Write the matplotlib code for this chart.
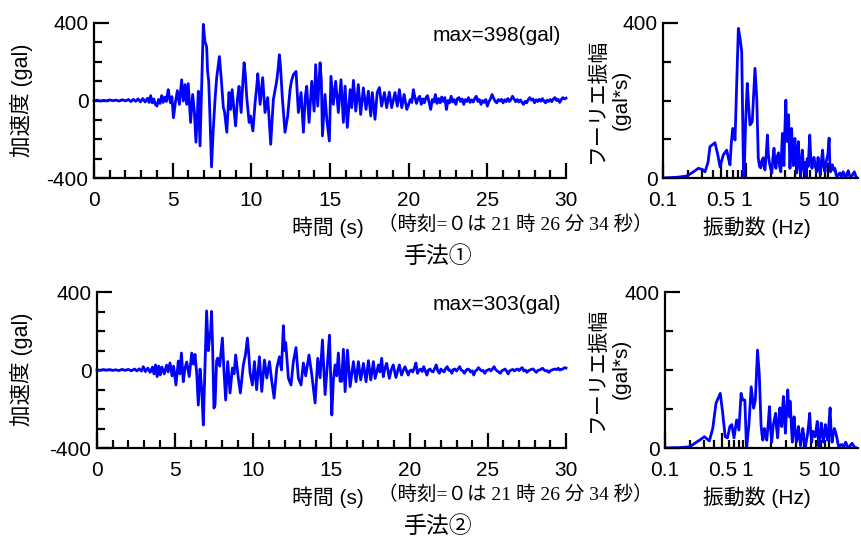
import matplotlib
matplotlib.use("Agg")
import matplotlib.pyplot as plt
import numpy as np
from matplotlib.ticker import FixedLocator, MultipleLocator

plt.rcParams['font.family'] = ['Liberation Sans', 'Noto Sans CJK JP']
plt.rcParams['axes.unicode_minus'] = False

# --- 手法① 加速度波形 (time s, gal), 0-20 s read at the turning points
t1 = [0.0, 0.2, 0.4, 0.6, 0.8, 1.0, 1.2, 1.4, 1.6, 1.8, 2.0, 2.2, 2.35, 2.5, 2.65,
      2.8, 2.95, 3.1, 3.25, 3.4, 3.5, 3.6, 3.7, 3.8, 3.9, 4.0, 4.1, 4.2, 4.3, 4.4,
      4.5, 4.6, 4.72, 4.8, 4.87, 4.95, 5.05, 5.17, 5.3, 5.43, 5.57, 5.68, 5.79, 5.89,
      5.99, 6.14, 6.27, 6.38, 6.48, 6.58, 6.63, 6.74, 6.85, 6.95, 7.05, 7.16, 7.22,
      7.29, 7.36, 7.47, 7.58, 7.7, 7.8, 7.97, 8.1, 8.22, 8.3, 8.44, 8.58, 8.68, 8.78,
      8.9, 9.0, 9.12, 9.22, 9.35, 9.45, 9.54, 9.62, 9.71, 9.86, 9.95, 10.1, 10.24,
      10.33, 10.41, 10.56, 10.72, 10.87, 11.04, 11.12, 11.23, 11.4, 11.5, 11.61, 11.7,
      11.78, 11.85, 11.97, 12.14, 12.31, 12.46, 12.55, 12.67, 12.84, 12.99, 13.16,
      13.31, 13.43, 13.52, 13.67, 13.84, 13.99, 14.09, 14.22, 14.37, 14.45, 14.52,
      14.68, 14.8, 14.96, 15.06, 15.21, 15.36, 15.53, 15.7, 15.85, 15.96, 16.1, 16.28,
      16.38, 16.49, 16.64, 16.8, 16.95, 17.12, 17.29, 17.44, 17.59, 17.69, 17.86, 18.0,
      18.14, 18.28, 18.46, 18.6, 18.77, 18.92, 19.13, 19.28, 19.41, 19.56, 19.71, 19.88]
a1 = [0, 2, -3, 1, -2, 3, -1, 2, -3, 4, -2, 5, -6, 6, -4,
      8, -7, 10, -8, 12, -10, 25, -12, 8, -20, -29, 5, -15, 25, -10,
      18, -5, 56, 10, -12, 20, -89, -12, 51, -20, 107, -3, 82, -20,
      87, -113, 31, -60, -215, -50, 48, -234, 100, 393, 304, 278, 150,
      100, -60, -343, -150, 15, 120, 227, 100, -36, -60, -164, 41, -46, 56,
      -50, -131, 10, 73, -62, 80, 195, 130, 15, -113, -80, -157, -10,
      60, 138, -20, 118, -62, 15, -80, -226, 5, 50, 99, 160,
      236, 180, 15, -164, -80, 56, 100, 133, 150, -62, 41,
      -164, 20, 73, -113, 99, -55, 185, -29, 195, 100, -183,
      31, -100, -209, 125, -20, 99, -62, 107, -113, 74, -139, 56,
      -37, 104, -55, 82, -72, 65, -46, 48, -80, 41, -97, 41,
      67, -29, 41, -37, 43, -37, 41, -29, 56, -37, 31, -46]
# 20-30 s tail, read every 0.1 s
a1_tail = [-20, 5, -10, 56, 15, -15, 10, 22, -20, 8,
           -12, 15, 25, -10, -46, 5, -8, 31, -15, 10,
           -12, 18, -5, 15, -46, 0, -12, 22, -8, 5,
           -20, 10, 15, -5, 8, -20, 5, -5, 15, -10,
           3, -8, 10, 22, -5, 5, -20, 0, -10, 5,
           -29, -5, 8, 31, 12, -5, -12, 5, -3, 6,
           -12, 4, -6, 10, -5, 5, 22, 8, -6, 5,
           -8, 3, -10, -20, -4, -12, 5, 15, 2, 8,
           -12, 4, -5, 6, -4, 10, -3, -12, 2, -5,
           5, -6, 8, 15, 0, 6, -10, 5, 15, 8, 12]

# --- 手法② 加速度波形
t2 = [0.0, 0.2, 0.4, 0.6, 0.8, 1.0, 1.2, 1.4, 1.6, 1.8, 2.0, 2.2, 2.4, 2.55, 2.7,
      2.85, 2.96, 3.1, 3.25, 3.4, 3.55, 3.65, 3.75, 3.85, 3.95, 4.05, 4.15, 4.3, 4.45,
      4.55, 4.67, 4.8, 4.9, 5.05, 5.2, 5.3, 5.4, 5.52, 5.63, 5.74, 5.9, 6.06, 6.17,
      6.27, 6.38, 6.48, 6.59, 6.7, 6.8, 6.9, 7.01, 7.12, 7.18, 7.27, 7.33, 7.4, 7.48,
      7.55, 7.65, 7.72, 7.85, 8.02, 8.12, 8.23, 8.36, 8.51, 8.66, 8.77, 8.87, 9.04,
      9.17, 9.36, 9.5, 9.62, 9.7, 9.79, 9.94, 10.07, 10.21, 10.39, 10.54, 10.71, 10.86,
      11.03, 11.18, 11.33, 11.5, 11.67, 11.8, 11.92, 12.0, 12.07, 12.24, 12.41, 12.56,
      12.73, 12.88, 13.05, 13.2, 13.35, 13.56, 13.74, 13.95, 14.12, 14.27, 14.42, 14.59,
      14.75, 14.87, 15.02, 15.12, 15.23, 15.33, 15.44, 15.55, 15.65, 15.76, 15.87,
      16.02, 16.19, 16.4, 16.57, 16.72, 16.87, 17.04, 17.21, 17.36, 17.51, 17.68, 17.79,
      18.0, 18.1, 18.21, 18.31, 18.42, 18.53, 18.7, 18.82, 18.95, 19.12, 19.34, 19.48,
      19.6, 19.7, 19.91]
a2 = [0, -2, 2, -1, 2, -2, 1, -3, 3, -2, 3, -4, 5, -5, 6,
      -6, 17, -8, 10, -12, 15, -20, 26, -34, 20, -25, 15, -20, 25,
      -10, 36, -30, 20, -77, 46, -20, 87, -60, 10, 41, -34, 87, 30,
      80, -20, -180, 5, -100, -282, 0, 303, 99, 151, 200, 300, 100, -195,
      -180, 46, 61, 20, 164, 0, -154, 43, -118, 10, -20, 77, -41,
      -118, 26, 80, 164, 90, -15, -77, 43, -101, 68, -110, 51, -41,
      43, -58, -144, 10, 68, 0, 227, 100, 141, -41, -77, 43,
      115, -41, -77, 36, -30, 77, -24, -169, 60, -40, 154, -126,
      40, 179, -231, -50, 26, -30, 87, -58, -58, 106, -111,
      102, -85, 43, -60, 43, -51, 34, -60, 48, -51, 43, -43,
      26, -10, 60, -34, 10, 34, -43, 0, 26, -38, 26, -26,
      0, 17, -26]
a2_tail = [-5, 0, -10, 10, 36, -17, 0, 5, -8, 17,
           -5, -26, 0, 5, -6, -10, 8, 26, -5, -17,
           5, -4, -10, 8, 17, -2, 0, -17, 3, 5,
           -5, 6, 17, 0, -5, -17, -3, 5, 2, -10,
           -4, -26, -5, 0, 12, 3, -5, -2, -17, -4,
           0, 4, -5, 6, 17, 2, -5, -10, -17, -3,
           0, 5, -6, -20, -4, 0, 3, -5, 2, 5,
           -3, 6, 12, -5, 0, -12, -3, 0, 4, 5,
           -4, -12, -2, 0, 4, 9, 0, -5, -3, -12,
           -4, 0, 3, 5, 2, 9, 0, 3, 5, 12, 10]
t_tail = np.round(np.arange(20.0, 30.05, 0.1), 1)

# --- フーリエ振幅 (Hz, gal*s)
f1 = [0.1, 0.15, 0.193, 0.23, 0.267, 0.3, 0.322, 0.35, 0.37, 0.425, 0.46, 0.489,
      0.535, 0.589, 0.62, 0.646, 0.67, 0.696, 0.743, 0.78, 0.815, 0.855, 0.895, 0.92,
      0.94, 0.955, 1.0, 1.045, 1.09, 1.127, 1.2, 1.25, 1.295, 1.36,
      1.42, 1.47, 1.52, 1.57, 1.63, 1.67, 1.71, 1.77, 1.83, 1.88, 1.94, 2.0, 2.07,
      2.13, 2.2, 2.26, 2.32, 2.4, 2.49, 2.57, 2.66, 2.72, 2.78, 2.84, 2.9, 2.97, 3.06,
      3.12, 3.18, 3.24, 3.3, 3.36, 3.43, 3.5, 3.59, 3.68, 3.78, 3.86, 3.94, 4.03, 4.13,
      4.23, 4.33, 4.45, 4.6, 4.72, 4.84, 4.97, 5.1, 5.25, 5.4, 5.55, 5.7, 5.95, 6.13,
      6.33, 6.5, 6.7, 6.95, 7.2, 7.35, 7.5, 7.75, 8.0, 8.25, 8.5, 8.8, 9.1, 9.3, 9.5,
      9.85, 10.2, 10.4, 10.6, 10.9, 11.2, 11.6, 12.0, 12.4, 12.8, 13.3, 13.8, 14.4,
      15.1, 15.7, 16.3, 16.8, 17.4, 18.1, 18.8, 19.7, 20.6, 21.5, 22.3]
A1 = [0, 2, 5, 15, 25, 22, 16, 40, 81, 91, 60, 29,
      59, 72, 50, 34, 90, 128, 98, 250, 386, 360, 326, 150,
      15, 0, 150, 244, 180, 137, 145, 220, 283, 206,
      51, 30, 26, 45, 52, 30, 21, 60, 111, 60, 38, 25, 13,
      50, 77, 40, 25, 55, 65, 30, 16, 70, 115, 60, 32, 120, 201,
      130, 94, 140, 163, 90, 25, 80, 128, 70, 32, 85, 102, 50, 13,
      60, 94, 40, 4, 40, 72, 35, 16, 40, 2, 50, 30, 111, 50,
      25, 45, 53, 30, 16, 35, 53, 25, 8, 45, 72, 30, 16, 35, 47,
      60, 103, 40, 16, 25, 34, 20, 25, 8, 0, 10, 13, 4,
      16, 5, 0, 12, 19, 5, 0, 10, 16, 4, 0]

f2 = [0.1, 0.15, 0.2, 0.264, 0.303, 0.348, 0.383, 0.42, 0.473, 0.505, 0.543, 0.58,
      0.62, 0.654, 0.697, 0.75, 0.8, 0.85, 0.89, 0.945, 0.99, 1.06, 1.13, 1.21, 1.27,
      1.35, 1.42, 1.49, 1.53, 1.57, 1.6, 1.64, 1.7, 1.75, 1.82, 1.89, 1.95, 2.01, 2.06,
      2.11, 2.18, 2.25, 2.31, 2.38, 2.45, 2.53, 2.6, 2.67, 2.73, 2.8, 2.88, 2.96, 3.06,
      3.16, 3.23, 3.3, 3.37, 3.45, 3.52, 3.6, 3.69, 3.78, 3.9, 4.03, 4.15, 4.28, 4.4,
      4.53, 4.68, 4.83, 5.0, 5.2, 5.35, 5.5, 5.68, 5.86, 6.03, 6.2, 6.3, 6.4, 6.6, 6.8,
      7.0, 7.25, 7.4, 7.58, 7.85, 8.1, 8.35, 8.6, 8.85, 9.1, 9.4, 9.7, 10.05, 10.4,
      10.7, 11.0, 11.35, 11.7, 12.15, 12.6, 13.0, 13.4, 13.9, 14.5, 15.3, 16.1, 16.9,
      17.7, 18.5, 19.3, 20.5, 21.9]
A2 = [0, 1, 3, 20, 29, 18, 50, 115, 140, 93, 29, 26,
      55, 60, 26, 72, 46, 140, 123, 123, 0, 60, 157, 102, 123,
      251, 187, 60, 35, 20, 40, 50, 30, 20, 60, 106, 50, 15, 40,
      60, 75, 89, 50, 26, 70, 103, 70, 55, 100, 132, 80, 38, 100,
      149, 110, 80, 120, 85, 45, 15, 55, 80, 40, 15, 35, 55, 25,
      6, 30, 50, 20, 3, 20, 34, 60, 89, 40, 15, 30, 43, 35, 29,
      45, 68, 30, 5, 35, 64, 35, 15, 40, 60, 35, 20, 60, 103,
      40, 15, 35, 50, 40, 26, 10, 0, 8, 9, 3, 15, 5,
      0, 8, 12, 3, 0]

max_labels = ['max=398(gal)', 'max=303(gal)']
method_titles = ['手法①', '手法②']
note = '（時刻=０は 21 時 26 分 34 秒）'

W, H = 861, 539
fig = plt.figure(figsize=(W / 100, H / 100), dpi=100)
blue = '#0000ff'
serif = ['Liberation Serif', 'Noto Sans CJK JP']


def box(x0, x1, ytop, ybot):
    return [x0 / W, 1 - ybot / H, (x1 - x0) / W, (ybot - ytop) / H]


def style(ax):
    for s in ['top', 'right']:
        ax.spines[s].set_visible(False)
    for s in ['left', 'bottom']:
        ax.spines[s].set_linewidth(1.6)
    ax.tick_params(which='both', direction='in', width=1.6, labelsize=15)
    ax.tick_params(which='major', length=11)
    ax.tick_params(which='minor', length=6)
    ax.tick_params(axis='x', pad=9)
    ax.tick_params(axis='y', pad=4)


rows = [
    (t1, a1, a1_tail, f1, A1, 94, 23, 178, 663),
    (t2, a2, a2_tail, f2, A2, 97, 292, 448, 665),
]

for i, (t, a, tail, f, A, x0, ytop, ybot, sx0) in enumerate(rows):
    # waveform
    ax = fig.add_axes(box(x0, 566, ytop, ybot))
    ax.plot(list(t) + list(t_tail), list(a) + list(tail), color=blue, lw=2.0,
            clip_on=False)
    ax.set_xlim(0, 30)
    ax.set_ylim(-400, 400)
    ax.xaxis.set_major_locator(MultipleLocator(5))
    ax.xaxis.set_minor_locator(MultipleLocator(1))
    ax.set_yticks([-400, 0, 400])
    ax.yaxis.set_minor_locator(MultipleLocator(100))
    style(ax)
    ax.text(29.7, 335, max_labels[i], ha='right', va='center', fontsize=15)

    # spectrum
    sp = fig.add_axes(box(sx0, 858, ytop, ybot))
    sp.plot(f, A, color=blue, lw=2.0)
    sp.set_xscale('log')
    sp.set_xlim(0.1, 22.8)
    sp.set_ylim(0, 400)
    sp.xaxis.set_major_locator(FixedLocator([0.1, 0.5, 1, 5, 10]))
    sp.xaxis.set_minor_locator(FixedLocator([0.2, 0.3, 0.4, 0.6, 0.7, 0.8, 0.9,
                                             2, 3, 4, 6, 7, 8, 9]))
    sp.set_xticklabels(['0.1', '0.5', '1', '5', '10'])
    sp.xaxis.set_minor_formatter(plt.NullFormatter())
    sp.set_yticks([0, 400])
    sp.yaxis.set_minor_locator(MultipleLocator(100))
    style(sp)

    yc = ytop + 77
    fig.text(21 / W, 1 - yc / H, '加速度 (gal)', rotation=90, ha='center',
             va='center', fontsize=15.5)
    fig.text(597 / W, 1 - yc / H, 'フーリエ振幅', rotation=90, ha='center',
             va='center', fontsize=15)
    fig.text(621 / W, 1 - yc / H, '(gal*s)', rotation=90, ha='center',
             va='center', fontsize=15)

    ylab = ybot + 49
    fig.text(328 / W, 1 - ylab / H, '時間 (s)', ha='center', va='center', fontsize=15)
    fig.text(515 / W, 1 - (ylab - 2) / H, note, ha='center', va='center',
             fontsize=14, family=serif)
    fig.text(757 / W, 1 - ylab / H, '振動数 (Hz)', ha='center', va='center', fontsize=15)
    fig.text(438 / W, 1 - (ybot + 79) / H, method_titles[i], ha='center',
             va='center', fontsize=16.5, family=serif)

fig.savefig('out.png', dpi=100)
